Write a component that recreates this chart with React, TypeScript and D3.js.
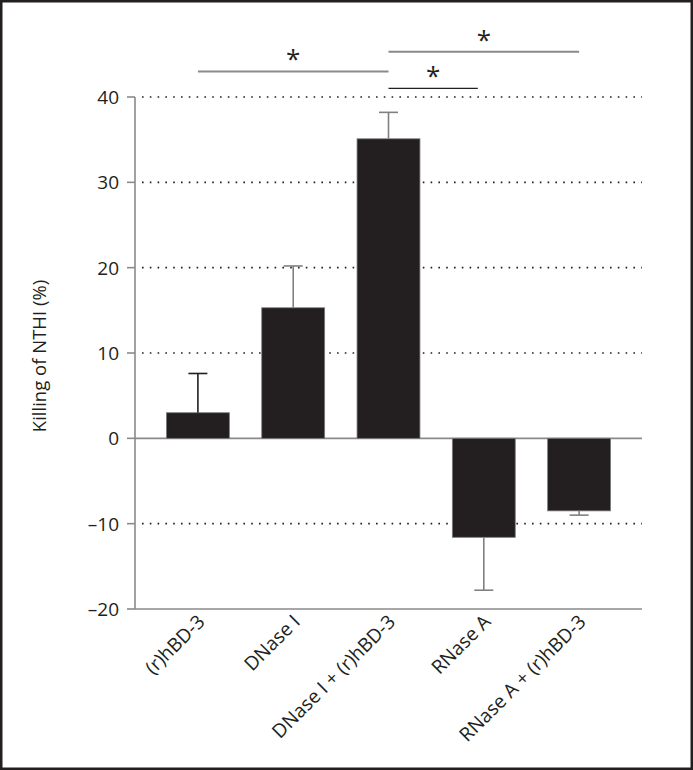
import React from "react";
import * as d3 from "d3";

const categories = ["(r)hBD-3", "DNase I", "DNase I + (r)hBD-3", "RNase A", "RNase A + (r)hBD-3"];
const values = [3.0, 15.3, 35.1, -11.6, -8.5];
const errors = [4.6, 4.9, 3.1, 6.2, 0.5];
const yTicks = [-20, -10, 0, 10, 20, 30, 40];
const gridTicks = [-10, 10, 20, 30, 40];
const comparisons = [
  { from: 0, to: 2, level: 43.0, label: "*" },
  { from: 2, to: 4, level: 45.3, label: "*" },
  { from: 2, to: 3, level: 41.0, label: "*" },
];

const W = 693;
const H = 770;
const FONT = "'Open Sans', 'Noto Sans', sans-serif";

export default function App() {
  const x = d3.scaleBand<string>().domain(categories).range([135, 642]).paddingInner(0.34).paddingOuter(0.33);
  const y = d3.scaleLinear().domain([-20, 40]).range([609, 97]);
  const bw = x.bandwidth();
  const cx = (i: number) => (x(categories[i]) as number) + bw / 2;
  const fmt = (v: number) => (v < 0 ? "\u2013" + Math.abs(v) : String(v));

  return (
    <svg width={W} height={H} style={{ position: "absolute", left: 0, top: 0, background: "#fff" }} fontFamily={FONT}>
      <rect x={1.25} y={1.25} width={W - 2.5} height={H - 2.5} fill="#fff" stroke="#231f20" strokeWidth={2.5} />

      {/* dotted gridlines */}
      {gridTicks.map((t) => (
        <line key={"g" + t} x1={142} x2={642} y1={y(t)} y2={y(t)} stroke="#231f20" strokeWidth={1.6} strokeDasharray="1.6 6.2" />
      ))}

      {/* zero line */}
      <line x1={135} x2={642} y1={y(0)} y2={y(0)} stroke="#8a8a8a" strokeWidth={1.6} />

      {/* bars */}
      {values.map((v, i) => (
        <rect
          key={"b" + i}
          x={x(categories[i])}
          width={bw}
          y={Math.min(y(v), y(0))}
          height={Math.abs(y(v) - y(0))}
          fill="#231f20"
          stroke="#7a7a7a"
          strokeWidth={0.8}
        />
      ))}

      {/* error bars */}
      {values.map((v, i) => {
        const end = v >= 0 ? v + errors[i] : v - errors[i];
        const c = cx(i);
        const col = i === 0 ? "#231f20" : "#808080";
        return (
          <g key={"e" + i} stroke={col} strokeWidth={1.6}>
            <line x1={c} x2={c} y1={y(v)} y2={y(end)} />
            <line x1={c - 9.5} x2={c + 9.5} y1={y(end)} y2={y(end)} />
          </g>
        );
      })}

      {/* axes */}
      <line x1={135} x2={135} y1={y(40)} y2={y(-20)} stroke="#8a8a8a" strokeWidth={1.6} />
      <line x1={135} x2={642} y1={y(-20)} y2={y(-20)} stroke="#8a8a8a" strokeWidth={1.6} />
      {yTicks.map((t) => (
        <g key={"t" + t}>
          <line x1={127} x2={135} y1={y(t)} y2={y(t)} stroke="#8a8a8a" strokeWidth={1.6} />
          <text x={119} y={y(t)} dy="0.36em" textAnchor="end" fontSize={19} fill="#231f20">
            {fmt(t)}
          </text>
        </g>
      ))}

      {/* category labels */}
      {categories.map((c, i) => (
        <text
          key={"c" + i}
          transform={`translate(${cx(i) + 8},${623}) rotate(-45)`}
          textAnchor="end"
          fontSize={19.2}
          fill="#231f20"
        >
          {c}
        </text>
      ))}

      {/* y label */}
      <text transform={`translate(46,${356}) rotate(-90)`} textAnchor="middle" fontSize={18.5} fill="#231f20">
        Killing of NTHI (%)
      </text>

      {/* significance */}
      {comparisons.map((cmp, i) => {
        const x1 = cx(cmp.from);
        const x2 = i === 2 ? cx(cmp.to) - 6 : cx(cmp.to);
        const yy = y(cmp.level);
        const black = i === 2;
        return (
          <g key={"s" + i}>
            <line x1={x1} x2={x2} y1={yy} y2={yy} stroke={black ? "#231f20" : "#8a8a8a"} strokeWidth={black ? 1.2 : 2} />
            <text x={(x1 + x2) / 2} y={yy - 3} textAnchor="middle" fontSize={26} fill="#231f20">
              {cmp.label}
            </text>
          </g>
        );
      })}
    </svg>
  );
}
